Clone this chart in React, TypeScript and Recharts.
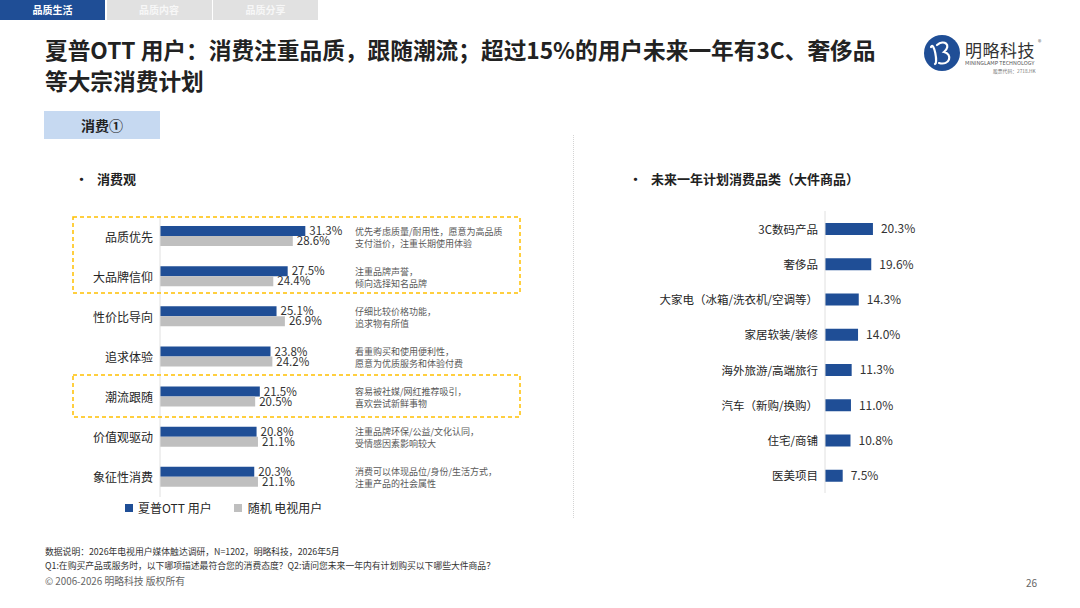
import { BarChart, Bar, XAxis, YAxis, LabelList } from 'recharts'

const viewCategories = ['品质优先', '大品牌信仰', '性价比导向', '追求体验', '潮流跟随', '价值观驱动', '象征性消费']
const sharpOtt = [31.3, 27.5, 25.1, 23.8, 21.5, 20.8, 20.3]
const randomTv = [28.6, 24.4, 26.9, 24.2, 20.5, 21.1, 21.1]
const viewNotes = [
  ['优先考虑质量/耐用性，愿意为高品质', '支付溢价，注重长期使用体验'],
  ['注重品牌声誉，', '倾向选择知名品牌'],
  ['仔细比较价格功能，', '追求物有所值'],
  ['看重购买和使用便利性，', '愿意为优质服务和体验付费'],
  ['容易被社媒/网红推荐吸引，', '喜欢尝试新鲜事物'],
  ['注重品牌环保/公益/文化认同，', '受情感因素影响较大'],
  ['消费可以体现品位/身份/生活方式，', '注重产品的社会属性'],
]

const planCategories = ['3C数码产品', '奢侈品', '大家电（冰箱/洗衣机/空调等）', '家居软装/装修', '海外旅游/高端旅行', '汽车（新购/换购）', '住宅/商铺', '医美项目']
const planValues = [20.3, 19.6, 14.3, 14.0, 11.3, 11.0, 10.8, 7.5]

const tabs = ['品质生活', '品质内容', '品质分享']

const viewData = viewCategories.map((name, i) => ({ name, ott: sharpOtt[i], tv: randomTv[i] }))
const planData = planCategories.map((name, i) => ({ name, value: planValues[i] }))

const BLUE = '#1f4e96'
const GRAY = '#bfbfbf'
const FONT = '"Noto Sans CJK SC", "Noto Sans", sans-serif'

const pct = (v: any) => Number(v).toFixed(1) + '%'

function ViewTick(props: any) {
  const { y, payload, index } = props
  const notes = viewNotes[index] || []
  return (
    <g>
      <text x={153} y={y} textAnchor="end" dominantBaseline="central" fontSize={12} fill="#262626">
        {payload.value}
      </text>
      <text x={355} y={y - 5} dominantBaseline="central" fontSize={9} fill="#595959">{notes[0]}</text>
      <text x={355} y={y + 7} dominantBaseline="central" fontSize={9} fill="#595959">{notes[1]}</text>
    </g>
  )
}

function PlanTick(props: any) {
  const { y, payload } = props
  return (
    <text x={218} y={y} textAnchor="end" dominantBaseline="central" fontSize={11.5} fill="#262626">
      {payload.value}
    </text>
  )
}

function Logo() {
  return (
    <div style={{ position: 'absolute', left: 922, top: 34, width: 140, height: 44 }}>
      <svg width={40} height={40} style={{ position: 'absolute', left: 0, top: 0 }}>
        <circle cx={20} cy={19} r={18} fill={BLUE} />
        <path d="M9 13 C12 7 16 29 13 30 M15 11 C22 5 30 11 22 18 C31 20 28 32 17 29" stroke="#fff" strokeWidth={2.2} fill="none" strokeLinecap="round" />
      </svg>
      <div style={{ position: 'absolute', left: 43, top: 7, fontSize: 17, lineHeight: '17px', color: '#333', letterSpacing: 0.5 }}>明略科技</div>
      <div style={{ position: 'absolute', left: 116, top: 4, fontSize: 7, lineHeight: '8px', color: '#666' }}>®</div>
      <svg width={100} height={16} style={{ position: 'absolute', left: 43, top: 25 }}>
        <text x={0} y={6} fontSize={5.4} fill="#555" fontFamily={FONT}>MININGLAMP TECHNOLOGY</text>
        <text x={28} y={14} fontSize={4.8} fill="#777" fontFamily={FONT}>股票代码：2718.HK</text>
      </svg>
    </div>
  )
}

function DashedBox({ left, top, width, height }: { left: number; top: number; width: number; height: number }) {
  return (
    <svg width={width + 2} height={height + 2} style={{ position: 'absolute', left: left - 1, top: top - 1, pointerEvents: 'none' }}>
      <rect x={1} y={1} width={width} height={height} fill="none" stroke="#ffc000" strokeWidth={1.5} strokeDasharray="4 3" />
    </svg>
  )
}

export default function App() {
  return (
    <div style={{ position: 'relative', width: 1080, height: 608, background: '#fff', fontFamily: FONT, overflow: 'hidden' }}>
      <style>{'body{margin:0}'}</style>

      {tabs.map((t, i) => (
        <div
          key={t}
          style={{
            position: 'absolute', left: i * 106.5, top: 0, width: 105, height: 20,
            background: i === 0 ? BLUE : '#e1e1e1', color: i === 0 ? '#fff' : '#f7f7f7',
            fontSize: 10, fontWeight: 700, textAlign: 'center', lineHeight: '20px',
          }}
        >
          {t}
        </div>
      ))}

      <div style={{ position: 'absolute', left: 45, top: 34, fontSize: 22.7, fontWeight: 700, color: '#222', lineHeight: '31px', whiteSpace: 'nowrap' }}>
        <div>夏普OTT 用户：消费注重品质，跟随潮流；超过15%的用户未来一年有3C、奢侈品</div>
        <div>等大宗消费计划</div>
      </div>
      <Logo />

      <div style={{ position: 'absolute', left: 44, top: 111, width: 116, height: 28, background: '#c6d9f1', fontSize: 14, fontWeight: 700, color: '#222', textAlign: 'center', lineHeight: '28px' }}>
        消费①
      </div>

      <div style={{ position: 'absolute', left: 75, top: 169, fontSize: 13, fontWeight: 700, color: '#222', whiteSpace: 'nowrap' }}>
        <span style={{ marginRight: 9 }}>•</span>消费观
      </div>
      <div style={{ position: 'absolute', left: 629, top: 169, fontSize: 13, fontWeight: 700, color: '#222', whiteSpace: 'nowrap' }}>
        <span style={{ marginRight: 9 }}>•</span>未来一年计划消费品类（大件商品）
      </div>

      <div style={{ position: 'absolute', left: 0, top: 200 }}>
        <BarChart width={540} height={310} data={viewData} layout="vertical" margin={{ top: 16, right: 55, bottom: 13, left: 0 }} barGap={0}>
          <XAxis type="number" domain={[0, 70]} hide />
          <YAxis type="category" dataKey="name" width={160} axisLine={{ stroke: '#e0e0e0' }} tickLine={false} interval={0} tick={<ViewTick />} />
          <Bar dataKey="ott" fill={BLUE} barSize={10} isAnimationActive={false}>
            <LabelList dataKey="ott" position="right" offset={4} formatter={pct} fontSize={11.5} fill="#333" />
          </Bar>
          <Bar dataKey="tv" fill={GRAY} barSize={10} isAnimationActive={false}>
            <LabelList dataKey="tv" position="right" offset={4} formatter={pct} fontSize={11.5} fill="#333" />
          </Bar>
        </BarChart>
      </div>

      <DashedBox left={73} top={217} width={447} height={76} />
      <DashedBox left={73} top={375} width={447} height={42} />

      <div style={{ position: 'absolute', left: 125, top: 499, fontSize: 12, color: '#262626', whiteSpace: 'nowrap', display: 'flex', alignItems: 'center' }}>
        <span style={{ display: 'inline-block', width: 8, height: 8, background: BLUE, marginRight: 5 }} />
        <span style={{ marginRight: 22 }}>夏普OTT 用户</span>
        <span style={{ display: 'inline-block', width: 8, height: 8, background: GRAY, marginRight: 6 }} />
        <span>随机 电视用户</span>
      </div>

      <div style={{ position: 'absolute', left: 573, top: 135, height: 383, borderLeft: '1.5px dotted #d4d4d4' }} />

      <div style={{ position: 'absolute', left: 600, top: 200 }}>
        <BarChart width={380} height={300} data={planData} layout="vertical" margin={{ top: 11, right: 37, bottom: 7, left: 0 }}>
          <XAxis type="number" domain={[0, 50]} hide />
          <YAxis type="category" dataKey="name" width={225} axisLine={{ stroke: '#e0e0e0' }} tickLine={false} interval={0} tick={<PlanTick />} />
          <Bar dataKey="value" fill={BLUE} barSize={12} isAnimationActive={false}>
            <LabelList dataKey="value" position="right" offset={8} formatter={pct} fontSize={12} fill="#333" />
          </Bar>
        </BarChart>
      </div>

      <div style={{ position: 'absolute', left: 45, top: 545, fontSize: 8.8, color: '#333', lineHeight: '13.5px', whiteSpace: 'nowrap' }}>
        <div>数据说明：2026年电视用户媒体触达调研，N=1202，明略科技，2026年5月</div>
        <div>Q1:在购买产品或服务时，以下哪项描述最符合您的消费态度？Q2:请问您未来一年内有计划购买以下哪些大件商品？</div>
      </div>
      <div style={{ position: 'absolute', left: 45, top: 574, fontSize: 9.8, color: '#666', whiteSpace: 'nowrap' }}>© 2006-2026 明略科技 版权所有</div>
      <div style={{ position: 'absolute', left: 1026, top: 575, fontSize: 10, color: '#666' }}>26</div>
    </div>
  )
}
